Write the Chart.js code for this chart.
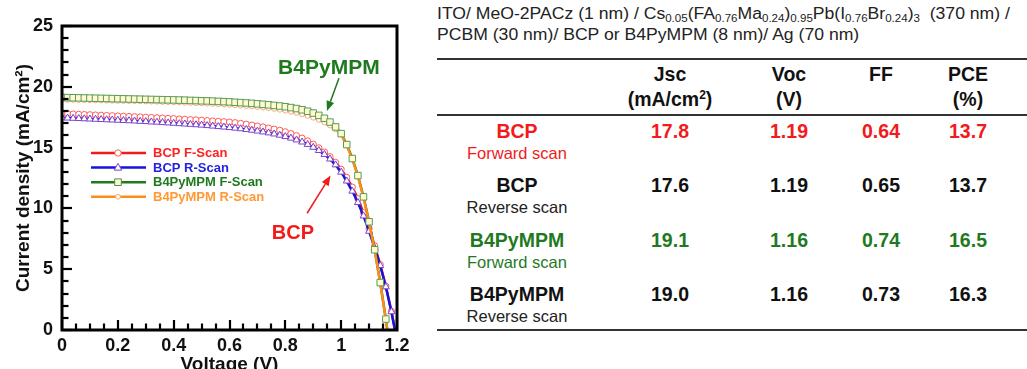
<!DOCTYPE html>
<html>
<head>
<meta charset="utf-8">
<script src="https://cdn.jsdelivr.net/npm/chart.js@4.4.1/dist/chart.umd.min.js"></script>
<style>
  html, body { margin: 0; padding: 0; background: #fff; }
  body { width: 1027px; height: 369px; overflow: hidden; position: relative; font-family: "Liberation Sans", Arial, sans-serif; }
  #chart { position: absolute; left: 0; top: 0; }
  .t { position: absolute; white-space: nowrap; line-height: 1; transform: translate(-50%, -50%); }
  .t sup { font-size: 12px; vertical-align: 0; position: relative; top: -7px; }
  .desc { position: absolute; left: 437px; white-space: nowrap; line-height: 1; font-size: 16px; color: #222;
          transform-origin: left center; transform: translateY(-50%) scaleX(1.1); }
  .desc sub { font-size: 10.5px; vertical-align: 0; position: relative; top: 3px; }
  .rule { position: absolute; left: 437px; right: 0; height: 2px; background: #333; }
</style>
</head>
<body>
<canvas id="chart" width="430" height="390"></canvas>
<div class="desc" style="top:14px">ITO/ MeO-2PACz (1 nm) / Cs<sub>0.05</sub>(FA<sub>0.76</sub>Ma<sub>0.24</sub>)<sub>0.95</sub>Pb(I<sub>0.76</sub>Br<sub>0.24</sub>)<sub>3</sub>&nbsp; (370 nm) /</div>
<div class="desc" style="top:35px">PCBM (30 nm)/ BCP or B4PyMPM (8 nm)/ Ag (70 nm)</div>
<div class="rule" style="top:58px"></div>
<div class="rule" style="top:114px"></div>
<div class="rule" style="top:329px"></div>
<div id="table"></div>
<script>
// J-V data (V, mA/cm2)
const voltage = [0, 0.02, 0.04, 0.06, 0.08, 0.1, 0.12, 0.14, 0.16, 0.18, 0.2, 0.22, 0.24, 0.26, 0.28, 0.3,
    0.32, 0.34, 0.36, 0.38, 0.4, 0.42, 0.44, 0.46, 0.48, 0.5, 0.52, 0.54, 0.56, 0.58, 0.6, 0.62, 0.64, 0.66,
    0.68, 0.7, 0.72, 0.74, 0.76, 0.78, 0.8, 0.82, 0.84, 0.86, 0.88, 0.9, 0.92, 0.94, 0.96, 0.98, 1.0, 1.02,
    1.04, 1.06, 1.08, 1.1, 1.12, 1.14, 1.16, 1.18, 1.2];

const bcpForward = [17.80, 17.78, 17.76, 17.74, 17.72, 17.70, 17.68, 17.66, 17.64, 17.62, 17.60, 17.58, 17.56,
    17.54, 17.52, 17.50, 17.48, 17.45, 17.43, 17.40, 17.38, 17.35, 17.33, 17.30, 17.28, 17.25, 17.22, 17.19,
    17.16, 17.13, 17.10, 17.05, 16.99, 16.92, 16.85, 16.77, 16.70, 16.61, 16.52, 16.42, 16.30, 16.15, 15.98,
    15.78, 15.55, 15.28, 14.98, 14.64, 14.25, 13.78, 13.22, 12.55, 11.75, 10.80, 9.65, 8.35, 6.92, 5.38,
    3.60, 1.55, -0.85];

const bcpReverse = [17.45, 17.43, 17.41, 17.39, 17.37, 17.35, 17.33, 17.31, 17.29, 17.27, 17.25, 17.23, 17.21,
    17.19, 17.16, 17.14, 17.11, 17.09, 17.06, 17.03, 17.00, 16.97, 16.94, 16.91, 16.88, 16.85, 16.81, 16.77,
    16.73, 16.69, 16.65, 16.60, 16.55, 16.49, 16.43, 16.36, 16.29, 16.21, 16.12, 16.02, 15.91, 15.78, 15.63,
    15.46, 15.26, 15.03, 14.76, 14.44, 14.06, 13.58, 12.98, 12.25, 11.42, 10.48, 9.38, 8.12, 6.75, 5.30,
    3.55, 1.50, -0.90];

const b4Forward = [19.12, 19.11, 19.10, 19.09, 19.08, 19.07, 19.06, 19.05, 19.04, 19.03, 19.02, 19.01, 19.00,
    18.99, 18.98, 18.97, 18.96, 18.95, 18.94, 18.93, 18.92, 18.91, 18.90, 18.88, 18.87, 18.85, 18.84, 18.82,
    18.80, 18.78, 18.76, 18.73, 18.70, 18.67, 18.64, 18.60, 18.56, 18.52, 18.47, 18.42, 18.36, 18.29, 18.21,
    18.11, 17.99, 17.84, 17.65, 17.41, 17.10, 16.70, 16.15, 15.25, 14.10, 12.70, 10.95, 8.90, 6.60, 3.90,
    0.90, -2.40, -6.00];

const b4Reverse = [18.95, 18.94, 18.93, 18.92, 18.91, 18.90, 18.89, 18.88, 18.87, 18.86, 18.85, 18.84, 18.83,
    18.82, 18.81, 18.80, 18.79, 18.78, 18.76, 18.75, 18.73, 18.72, 18.70, 18.68, 18.66, 18.64, 18.62, 18.60,
    18.57, 18.55, 18.52, 18.49, 18.46, 18.42, 18.39, 18.35, 18.30, 18.25, 18.19, 18.12, 18.04, 17.95, 17.85,
    17.74, 17.61, 17.46, 17.28, 17.07, 16.82, 16.50, 16.08, 15.18, 14.05, 12.65, 10.90, 8.85, 6.55, 3.85,
    0.85, -2.45, -6.05];

const seriesLabels = ['BCP F-Scan', 'BCP R-Scan', 'B4PyMPM F-Scan', 'B4PyMPM R-Scan'];

// table
const devices = ['BCP', 'BCP', 'B4PyMPM', 'B4PyMPM'];
const scans = ['Forward scan', 'Reverse scan', 'Forward scan', 'Reverse scan'];
const jsc = ['17.8', '17.6', '19.1', '19.0'];
const voc = ['1.19', '1.19', '1.16', '1.16'];
const ff = ['0.64', '0.65', '0.74', '0.73'];
const pce = ['13.7', '13.7', '16.5', '16.3'];

const RED = '#f21a1a', GREEN = '#1f7a1f', BLUE = '#1414dc', ORANGE = '#ff8c1a';
const FONT = '"Liberation Sans", Arial, sans-serif';

// ---- table (html) ----
const tbl = document.getElementById('table');
function put(text, cx, cy, size, weight, color) {
    const d = document.createElement('div');
    d.className = 't';
    d.style.left = cx + 'px';
    d.style.top = cy + 'px';
    d.style.fontSize = size + 'px';
    d.style.fontWeight = weight;
    d.style.color = color;
    d.innerHTML = text;
    tbl.appendChild(d);
}
const colX = [517, 670, 789, 881, 968];
put('Jsc', colX[1], 75, 19.5, 'bold', '#111');
put('(mA/cm<sup>2</sup>)', colX[1], 100, 19.5, 'bold', '#111');
put('Voc', colX[2], 75, 19.5, 'bold', '#111');
put('(V)', colX[2], 100, 19.5, 'bold', '#111');
put('FF', colX[3], 75, 19.5, 'bold', '#111');
put('PCE', colX[4], 75, 19.5, 'bold', '#111');
put('(%)', colX[4], 100, 19.5, 'bold', '#111');
const rowColor = [RED, '#111', GREEN, '#111'];
devices.forEach((name, i) => {
    const y = 132 + i * 54.3;
    const c = rowColor[i];
    put(name, colX[0], y, 19.5, 'bold', c);
    put(scans[i], colX[0], y + 21, 16.5, 'normal', i % 2 === 0 ? c : '#222');
    put(jsc[i], colX[1], y, 19.5, 'bold', c);
    put(voc[i], colX[2], y, 19.5, 'bold', c);
    put(ff[i], colX[3], y, 19.5, 'bold', c);
    put(pce[i], colX[4], y, 19.5, 'bold', c);
});

// ---- chart ----
const pts = ys => voltage.map((v, i) => ({x: v, y: ys[i]}));

function marker(ctx, style, x, y, r, fill, stroke) {
    ctx.save();
    ctx.fillStyle = fill;
    ctx.strokeStyle = stroke;
    ctx.lineWidth = 1;
    ctx.beginPath();
    if (style === 'triangle') {
        ctx.moveTo(x, y - r);
        ctx.lineTo(x + r * 0.9, y + r * 0.6);
        ctx.lineTo(x - r * 0.9, y + r * 0.6);
        ctx.closePath();
    } else if (style === 'rect') {
        ctx.rect(x - r, y - r, 2 * r, 2 * r);
    } else {
        ctx.arc(x, y, r, 0, Math.PI * 2);
    }
    ctx.fill();
    ctx.stroke();
    ctx.restore();
}

function arrow(ctx, x1, y1, x2, y2, color) {
    const a = Math.atan2(y2 - y1, x2 - x1);
    const hl = 10, hw = 4;
    ctx.save();
    ctx.strokeStyle = color;
    ctx.fillStyle = color;
    ctx.lineWidth = 1.5;
    ctx.beginPath();
    ctx.moveTo(x1, y1);
    ctx.lineTo(x2 - hl * Math.cos(a), y2 - hl * Math.sin(a));
    ctx.stroke();
    ctx.beginPath();
    ctx.moveTo(x2, y2);
    ctx.lineTo(x2 - hl * Math.cos(a) + hw * Math.sin(a), y2 - hl * Math.sin(a) - hw * Math.cos(a));
    ctx.lineTo(x2 - hl * Math.cos(a) - hw * Math.sin(a), y2 - hl * Math.sin(a) + hw * Math.cos(a));
    ctx.closePath();
    ctx.fill();
    ctx.restore();
}

const extras = {
    id: 'extras',
    afterDraw(chart) {
        const {ctx, chartArea: a, scales: {x, y}} = chart;
        ctx.save();
        // inward ticks
        ctx.strokeStyle = '#000';
        ctx.lineWidth = 2.2;
        for (let i = 0; i <= 25; i++) {
            const py = Math.round(y.getPixelForValue(i));
            const len = i % 5 === 0 ? 10 : 6.5;
            ctx.beginPath();
            ctx.moveTo(a.left, py);
            ctx.lineTo(a.left + len, py);
            ctx.stroke();
        }
        for (let i = 0; i <= 24; i++) {
            const px = Math.round(x.getPixelForValue(i * 0.05));
            const len = i % 4 === 0 ? 10 : 6.5;
            ctx.beginPath();
            ctx.moveTo(px, a.bottom);
            ctx.lineTo(px, a.bottom - len);
            ctx.stroke();
        }
        // frame
        ctx.lineWidth = 3;
        ctx.strokeRect(a.left, a.top, a.right - a.left, a.bottom - a.top);

        // legend
        const legend = [
            {color: RED, text: '#ff2020', style: 'circle', r: 3.2, fill: '#fff', stroke: '#ff5a5a'},
            {color: BLUE, text: '#2222e0', style: 'triangle', r: 4.2, fill: '#fff', stroke: '#7a44d0'},
            {color: GREEN, text: GREEN, style: 'rect', r: 3.3, fill: '#fffad0', stroke: '#4f8f4f'},
            {color: ORANGE, text: '#ff9933', style: 'circle', r: 2.4, fill: '#fff', stroke: '#f7a877'}
        ];
        ctx.font = 'bold 13px ' + FONT;
        ctx.textBaseline = 'middle';
        ctx.textAlign = 'left';
        legend.forEach((l, i) => {
            const ly = a.top + 127 + i * 14.6;
            ctx.strokeStyle = l.color;
            ctx.lineWidth = 2.5;
            ctx.beginPath();
            ctx.moveTo(a.left + 29, ly);
            ctx.lineTo(a.left + 84, ly);
            ctx.stroke();
            marker(ctx, l.style, a.left + 56, ly, l.r, l.fill, l.stroke);
            ctx.fillStyle = l.text;
            ctx.fillText(seriesLabels[i], a.left + 91, ly + 0.5);
        });

        // annotations
        ctx.textAlign = 'center';
        ctx.textBaseline = 'alphabetic';
        ctx.font = 'bold 21px ' + FONT;
        ctx.fillStyle = GREEN;
        ctx.fillText('B4PyMPM', x.getPixelForValue(0.956), y.getPixelForValue(21.05));
        arrow(ctx, x.getPixelForValue(0.992), y.getPixelForValue(20.7),
              x.getPixelForValue(0.949), y.getPixelForValue(18.0), GREEN);
        ctx.font = 'bold 20px ' + FONT;
        ctx.fillStyle = RED;
        ctx.fillText('BCP', x.getPixelForValue(0.827), y.getPixelForValue(7.5));
        arrow(ctx, x.getPixelForValue(0.878), y.getPixelForValue(9.6),
              x.getPixelForValue(0.962), y.getPixelForValue(12.7), RED);
        ctx.restore();
    }
};

new Chart(document.getElementById('chart'), {
    type: 'line',
    data: {
        datasets: [{
            label: seriesLabels[0],
            data: pts(bcpForward),
            order: 5,
            borderColor: RED,
            borderWidth: 2.5,
            pointStyle: 'circle',
            pointRadius: 3.1,
            pointBackgroundColor: '#fff',
            pointBorderColor: '#ff5a5a',
            pointBorderWidth: 1
        }, {
            label: seriesLabels[1],
            data: pts(bcpReverse),
            order: 4,
            borderColor: BLUE,
            borderWidth: 2.5,
            pointStyle: 'triangle',
            pointRadius: 4,
            pointBackgroundColor: '#fff',
            pointBorderColor: '#7a44d0',
            pointBorderWidth: 1
        }, {
            label: seriesLabels[2],
            data: pts(b4Forward),
            order: 3,
            borderColor: GREEN,
            borderWidth: 2.5,
            pointRadius: 0
        }, {
            label: seriesLabels[3],
            data: pts(b4Reverse),
            order: 2,
            borderColor: ORANGE,
            borderWidth: 2.5,
            pointStyle: 'circle',
            pointRadius: 2.5,
            pointBackgroundColor: '#fff',
            pointBorderColor: '#f7a877',
            pointBorderWidth: 1
        }, {
            label: seriesLabels[2] + ' markers',
            data: pts(b4Forward),
            order: 1,
            showLine: false,
            pointStyle: 'rect',
            pointRadius: 4.6,
            pointBackgroundColor: '#fffad0',
            pointBorderColor: '#5a9a5a',
            pointBorderWidth: 1
        }]
    },
    options: {
        responsive: false,
        animation: false,
        layout: {padding: {left: 0, top: 26, right: 33, bottom: 0}},
        plugins: {legend: {display: false}, tooltip: {enabled: false}},
        scales: {
            x: {
                type: 'linear',
                min: 0,
                max: 1.2,
                grid: {display: false, drawTicks: false},
                border: {display: false},
                ticks: {
                    stepSize: 0.2,
                    autoSkip: false,
                    maxRotation: 0,
                    padding: 5,
                    color: '#111',
                    font: {family: FONT, size: 18, weight: 'bold'},
                    callback: v => Number(v.toFixed(2)).toString()
                },
                title: {
                    display: true,
                    text: 'Voltage (V)',
                    color: '#111',
                    padding: {top: 0, bottom: 14},
                    font: {family: FONT, size: 19, weight: 'bold'}
                },
                afterFit: s => { s.height = 60; }
            },
            y: {
                min: 0,
                max: 25,
                grid: {display: false, drawTicks: false},
                border: {display: false},
                ticks: {
                    stepSize: 5,
                    padding: 9,
                    color: '#111',
                    font: {family: FONT, size: 18, weight: 'bold'}
                },
                title: {
                    display: true,
                    text: 'Current density (mA/cm²)',
                    color: '#111',
                    padding: {top: 12, bottom: 0},
                    font: {family: FONT, size: 19, weight: 'bold'}
                },
                afterFit: s => { s.width = 62; }
            }
        }
    },
    plugins: [extras]
});
</script>
</body>
</html>
